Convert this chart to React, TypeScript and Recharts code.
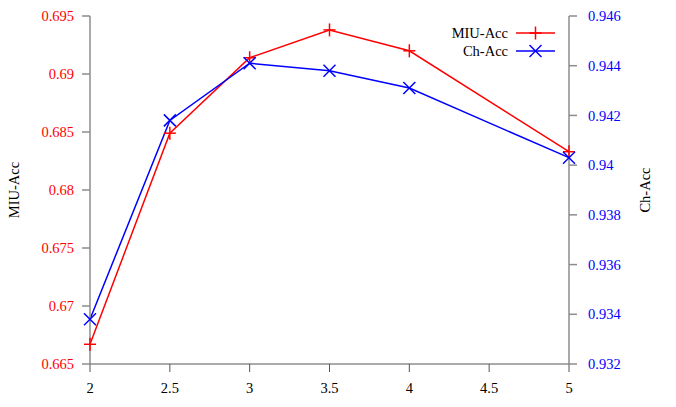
import { LineChart, Line, XAxis, YAxis, Legend } from "recharts";

const ratios = [2, 2.5, 3, 3.5, 4, 5];
const miuAcc = [0.6667, 0.6849, 0.6914, 0.6938, 0.692, 0.6833];
const chAcc = [0.9338, 0.9418, 0.9441, 0.9438, 0.9431, 0.9403];

const xTicks = [2, 2.5, 3, 3.5, 4, 4.5, 5];
const leftTicks = [0.665, 0.67, 0.675, 0.68, 0.685, 0.69, 0.695];
const rightTicks = [0.932, 0.934, 0.936, 0.938, 0.94, 0.942, 0.944, 0.946];

const data = ratios.map((r, i) => ({ r, miu: miuAcc[i], ch: chAcc[i] }));

const RED = "#ff0000";
const BLUE = "#0000ff";
const FONT = "'Liberation Serif', 'Times New Roman', serif";
const FS = 14.5;

const Plus = ({ cx, cy, color }: any) => (
  <g>
    <line x1={cx - 6} y1={cy} x2={cx + 6} y2={cy} stroke={color} strokeWidth={1.5} />
    <line x1={cx} y1={cy - 6.5} x2={cx} y2={cy + 6.5} stroke={color} strokeWidth={1.5} />
  </g>
);

const Cross = ({ cx, cy, color }: any) => (
  <g>
    <line x1={cx - 6} y1={cy - 6} x2={cx + 6} y2={cy + 6} stroke={color} strokeWidth={1.5} />
    <line x1={cx - 6} y1={cy + 6} x2={cx + 6} y2={cy - 6} stroke={color} strokeWidth={1.5} />
  </g>
);

const plusDot = (p: any) => <Plus key={`p${p.index}`} cx={p.cx} cy={p.cy} color={RED} />;
const crossDot = (p: any) => <Cross key={`c${p.index}`} cx={p.cx} cy={p.cy} color={BLUE} />;

// tick text drawn by hand so the serif font sticks
const makeTick = (color: string, vertical: boolean) => (p: any) => (
  <text
    key={`t${p.index}`}
    x={p.x}
    y={p.y}
    textAnchor={p.textAnchor}
    dy={vertical ? "0.355em" : "0.71em"}
    fill={color}
    style={{ fontFamily: FONT, fontSize: FS }}
  >
    {String(p.payload.value)}
  </text>
);

const axisTitle = (text: string, offset: number) => (props: any) => {
  const vb = props.viewBox;
  const x = vb.x + offset;
  const y = vb.y + vb.height / 2;
  return (
    <text
      x={x}
      y={y}
      transform={`rotate(-90, ${x}, ${y})`}
      textAnchor="middle"
      dominantBaseline="central"
      fill="#000"
      style={{ fontFamily: FONT, fontSize: FS }}
    >
      {text}
    </text>
  );
};

const LegendBox = () => (
  <svg width={140} height={42} style={{ display: "block" }}>
    {[
      { name: "MIU-Acc", color: RED, Mark: Plus },
      { name: "Ch-Acc", color: BLUE, Mark: Cross },
    ].map((s, i) => {
      const y = 11 + i * 18;
      return (
        <g key={s.name}>
          <text
            x={68}
            y={y}
            textAnchor="end"
            dominantBaseline="central"
            fill="#000"
            style={{ fontFamily: FONT, fontSize: FS }}
          >
            {s.name}
          </text>
          <line x1={76} y1={y} x2={115} y2={y} stroke={s.color} strokeWidth={1.5} />
          <s.Mark cx={95.5} cy={y} color={s.color} />
        </g>
      );
    })}
  </svg>
);

export default function App() {
  return (
    <div style={{ position: "absolute", left: 0, top: 0, fontFamily: FONT }}>
      <LineChart
        width={676}
        height={407}
        data={data}
        margin={{ top: 16, right: 0, bottom: 0, left: 0 }}
        style={{ fontFamily: FONT }}
      >
        <XAxis
          dataKey="r"
          type="number"
          domain={[2, 5]}
          ticks={xTicks}
          stroke="#555"
          tickSize={8}
          tickMargin={11}
          height={43}
          tick={makeTick("#000", false)}
        />
        <YAxis
          yAxisId="left"
          orientation="left"
          domain={[0.665, 0.695]}
          ticks={leftTicks}
          width={90}
          stroke="#8c8c8c"
          strokeWidth={1.5}
          tickSize={8}
          tickMargin={8}
          tick={makeTick(RED, true)}
          label={{ content: axisTitle("MIU-Acc", 14) }}
        />
        <YAxis
          yAxisId="right"
          orientation="right"
          domain={[0.932, 0.946]}
          ticks={rightTicks}
          width={107}
          stroke="#8c8c8c"
          strokeWidth={1.5}
          tickSize={8}
          tickMargin={11}
          tick={makeTick(BLUE, true)}
          label={{ content: axisTitle("Ch-Acc", 76) }}
        />
        <Legend
          layout="vertical"
          align="center"
          verticalAlign="middle"
          content={() => <LegendBox />}
          wrapperStyle={{ position: "absolute", left: 440, top: 22, width: 140 }}
        />
        <Line
          yAxisId="left"
          dataKey="miu"
          stroke={RED}
          strokeWidth={1.5}
          dot={plusDot}
          activeDot={false}
          isAnimationActive={false}
        />
        <Line
          yAxisId="right"
          dataKey="ch"
          stroke={BLUE}
          strokeWidth={1.5}
          dot={crossDot}
          activeDot={false}
          isAnimationActive={false}
        />
      </LineChart>
    </div>
  );
}
